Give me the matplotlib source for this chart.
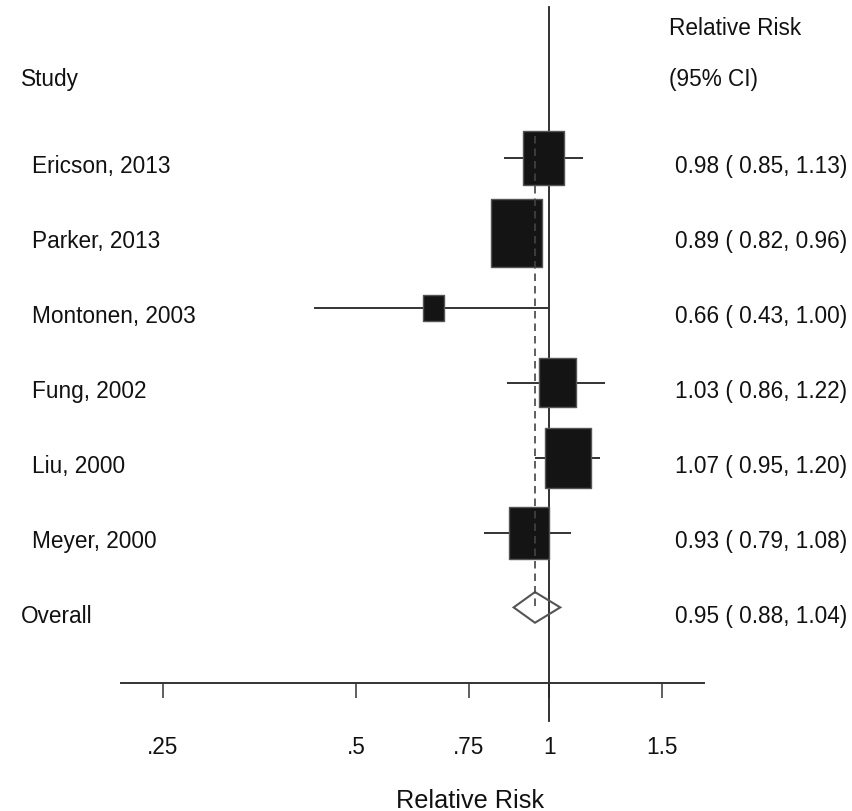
import matplotlib
matplotlib.use("Agg")
import matplotlib.pyplot as plt
from matplotlib.path import Path
from matplotlib.ticker import NullLocator
from matplotlib.transforms import blended_transform_factory

# study-level relative risks with 95% CI and pooled weights (%)
studies = ["Ericson, 2013", "Parker, 2013", "Montonen, 2003", "Fung, 2002", "Liu, 2000", "Meyer, 2000"]
rr = [0.98, 0.89, 0.66, 1.03, 1.07, 0.93]
ci_lo = [0.85, 0.82, 0.43, 0.86, 0.95, 0.79]
ci_hi = [1.13, 0.96, 1.00, 1.22, 1.20, 1.08]
weights = [17.2, 27.0, 4.2, 14.3, 21.4, 15.9]

overall_rr, overall_lo, overall_hi = 0.95, 0.88, 1.04

xticks = [0.25, 0.5, 0.75, 1, 1.5]
xtick_labels = [".25", ".5", ".75", "1", "1.5"]

plt.rcParams["font.family"] = ["Liberation Sans Narrow", "Liberation Sans", "DejaVu Sans"]
FS = 16.3

W, H = 853, 812
ROW0, ROWSTEP = 159.3, 74.85   # pixel y of first row and row spacing


def row_of(py):
    return (py - ROW0) / ROWSTEP


def main():
    fig = plt.figure(figsize=(W / 100, H / 100), dpi=100)
    ax = fig.add_axes([120.7 / W, (H - 684) / H, (704 - 120.7) / W, 684 / H])
    ax.set_xscale("log")
    ax.set_xlim(0.2151, 1.7414)
    ax.set_ylim(row_of(684), row_of(0))

    for s in ("top", "left", "right"):
        ax.spines[s].set_visible(False)
    ax.spines["bottom"].set_color("#333333")
    ax.spines["bottom"].set_linewidth(1.4)
    ax.set_yticks([])
    ax.set_xticks(xticks, xtick_labels)
    ax.xaxis.set_minor_locator(NullLocator())
    ax.tick_params(axis="x", direction="out", length=10.8, width=1.2,
                   color="#444444", pad=26.5, labelsize=FS, labelcolor="#111111")
    ax.set_xlabel("Relative Risk", fontsize=18.2, color="#111111", va="baseline")
    ax.xaxis.set_label_coords((470 - 120.7) / (704 - 120.7), (684 - 808) / 684)

    n = len(studies)
    rows = list(range(n))

    # null line and pooled-estimate line
    ax.plot([1, 1], [row_of(8), row_of(722)], color="#222222", lw=1.3,
            clip_on=False, zorder=2)
    ax.plot([overall_rr, overall_rr], [-0.3, 6.02], color="#444444", lw=1.2,
            dashes=(4.5, 3), zorder=4)

    # confidence intervals
    ax.hlines(rows, ci_lo, ci_hi, color="#333333", lw=1.4, zorder=2)

    # weight boxes
    bw = 0.38
    box = Path([(-bw, -0.5), (bw, -0.5), (bw, 0.5), (-bw, 0.5), (-bw, -0.5)],
               [Path.MOVETO, Path.LINETO, Path.LINETO, Path.LINETO, Path.CLOSEPOLY])
    ax.scatter(rr, rows, s=[87.9 * w for w in weights], marker=box,
               facecolor="#141414", edgecolor="#555555", linewidths=1.0, zorder=3)

    # pooled diamond
    yo, hh = n, 0.205
    ax.fill([overall_lo, overall_rr, overall_hi, overall_rr],
            [yo, yo - hh, yo, yo + hh], facecolor="none", edgecolor="#555555",
            lw=1.5, zorder=3)

    # text columns
    tr = blended_transform_factory(fig.transFigure, ax.transData)
    kw = dict(transform=tr, fontsize=FS, color="#111111", va="baseline", clip_on=False)
    ax.text(20.7 / W, row_of(86), "Study", **kw)
    ax.text(669.3 / W, row_of(35), "Relative Risk", **kw)
    ax.text(669.3 / W, row_of(86), "(95% CI)", **kw)
    for i in rows:
        ax.text(31.7 / W, i + 0.187, studies[i], **kw)
        ax.text(675 / W, i + 0.187, f"{rr[i]:.2f} ( {ci_lo[i]:.2f}, {ci_hi[i]:.2f})", **kw)
    ax.text(20.7 / W, yo + 0.2, "Overall", **kw)
    ax.text(675 / W, yo + 0.2, f"{overall_rr:.2f} ( {overall_lo:.2f}, {overall_hi:.2f})", **kw)

    fig.savefig("out.png", dpi=100)


if __name__ == "__main__":
    main()
